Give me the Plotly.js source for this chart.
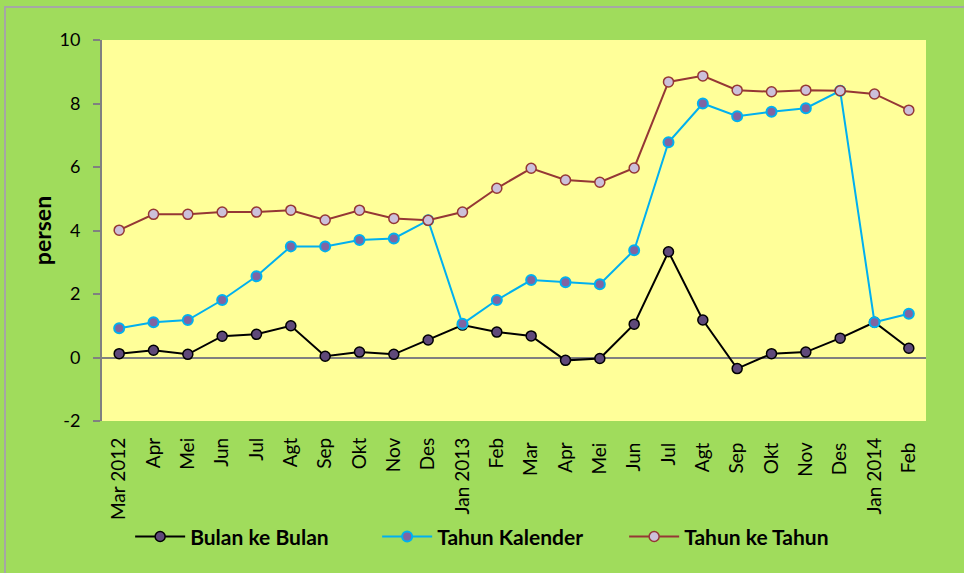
<!DOCTYPE html>
<html><head><meta charset="utf-8">
<script src="https://cdn.plot.ly/plotly-3.0.1.min.js"></script>
<style>html,body{margin:0;padding:0;background:#a0dc5c;overflow:hidden;}</style>
</head><body>
<div id="chart" style="width:964px;height:573px;"></div>
<script>
const categories = ["Mar 2012","Apr","Mei","Jun","Jul","Agt","Sep","Okt","Nov","Des","Jan 2013","Feb","Mar ","Apr ","Mei ","Jun ","Jul ","Agt ","Sep ","Okt ","Nov ","Des ","Jan 2014","Feb "];
const bulanKeBulan = [0.12,0.23,0.10,0.67,0.73,1.00,0.04,0.17,0.10,0.55,1.02,0.80,0.68,-0.09,-0.03,1.05,3.33,1.18,-0.35,0.12,0.17,0.61,1.11,0.29];
const tahunKalender = [0.92,1.11,1.18,1.81,2.56,3.50,3.50,3.70,3.75,4.32,1.06,1.81,2.44,2.37,2.31,3.38,6.78,8.00,7.60,7.74,7.85,8.40,1.11,1.38];
const tahunKeTahun = [4.01,4.51,4.51,4.58,4.58,4.64,4.33,4.64,4.38,4.32,4.58,5.33,5.96,5.59,5.52,5.97,8.68,8.87,8.42,8.37,8.42,8.40,8.30,7.79];
const seriesNames = ["Bulan ke Bulan","Tahun Kalender","Tahun ke Tahun"];
const yTicks = [-2,0,2,4,6,8,10];

const FONT = "Lato, 'Open Sans', sans-serif";

const traces = [
  {x: categories, y: bulanKeBulan, name: seriesNames[0], type: "scatter", mode: "lines+markers",
   line: {color: "#000000", width: 2},
   marker: {size: 10, color: "#5f497a", line: {color: "#000000", width: 1.5}}},
  {x: categories, y: tahunKalender, name: seriesNames[1], type: "scatter", mode: "lines+markers",
   line: {color: "#00b0f0", width: 2},
   marker: {size: 10, color: "#8064a2", line: {color: "#00b0f0", width: 2}}},
  {x: categories, y: tahunKeTahun, name: seriesNames[2], type: "scatter", mode: "lines+markers",
   line: {color: "#953735", width: 2},
   marker: {size: 10, color: "#ccc0da", line: {color: "#953735", width: 1.5}}}
];

const layout = {
  width: 964, height: 573,
  paper_bgcolor: "#a0dc5c",
  plot_bgcolor: "#ffff99",
  margin: {l: 102, r: 38, t: 40, b: 152},
  showlegend: true,
  legend: {orientation: "h", xref: "container", yref: "container", x: 0.135, xanchor: "left", y: 0.063, yanchor: "middle",
    bgcolor: "rgba(0,0,0,0)", entrywidth: 182, entrywidthmode: "pixels",
    font: {family: FONT, size: 21, color: "#000", weight: 700},
    itemwidth: 50},
  xaxis: {type: "category", tickangle: -90, showgrid: false, showline: false, zeroline: false,
    ticks: "", ticklabelstandoff: 12, tickfont: {family: FONT, size: 19, color: "#000"},
    range: [-0.5, 23.5], automargin: false},
  yaxis: {range: [-2, 10], tickvals: yTicks, ticktext: yTicks.map(String), showgrid: false,
    showline: true, linecolor: "#808080", linewidth: 2, ticks: "outside", ticklen: 7, tickcolor: "#808080", tickwidth: 2,
    zeroline: true, zerolinecolor: "#808080", zerolinewidth: 2, ticklabelstandoff: 9,
    tickfont: {family: FONT, size: 18, color: "#000"},
    title: {text: "persen", font: {family: FONT, size: 23, color: "#000", weight: 700}, standoff: 1},
    automargin: false},
  shapes: [{type: "rect", xref: "paper", yref: "paper", x0: -0.1177, x1: 1.06, y0: -0.43, y1: 1.0866, line: {color: "#a6a6a6", width: 2}, layer: "below"}]
};

Plotly.newPlot("chart", traces, layout, {displayModeBar: false, staticPlot: true});
</script>
</body></html>
